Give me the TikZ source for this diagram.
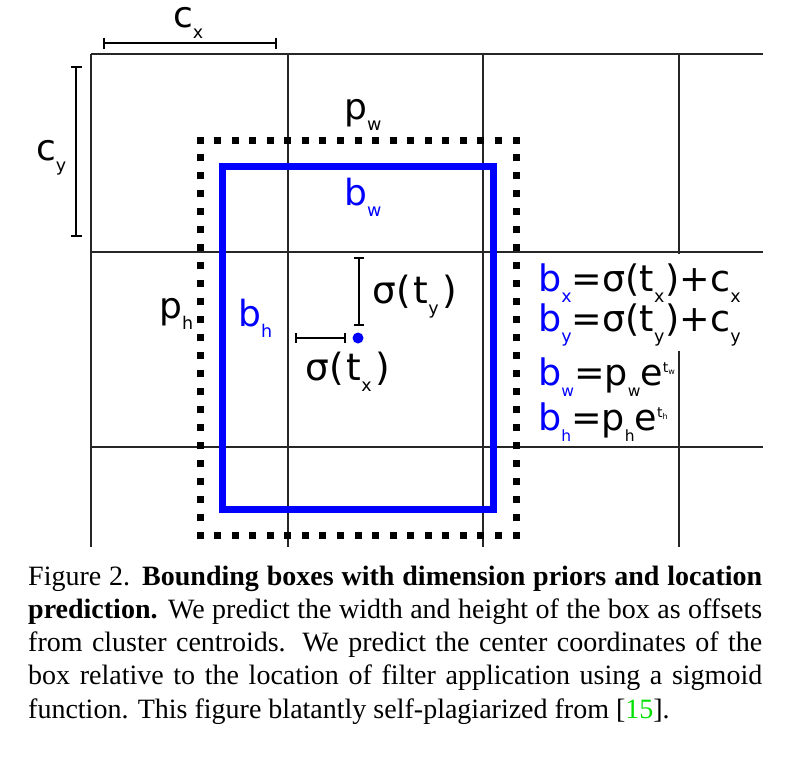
\documentclass[tikz,border=0pt]{standalone}
\usepackage{fontspec}
\setmainfont{Liberation Serif}
\newfontfamily\dv{DejaVu Sans}
\definecolor{bblue}{RGB}{0,0,255}
\definecolor{refgreen}{RGB}{0,225,0}
\newcommand\lsub[1]{\raisebox{-11pt}{\fontsize{17.5}{18}\selectfont #1}}
\newcommand\nsub[1]{\raisebox{-11pt}{\fontsize{15.5}{16}\selectfont #1}}
\newcommand\esup[2]{\raisebox{13pt}{\fontsize{14}{14}\selectfont #1\raisebox{-2.5pt}{\fontsize{8}{8}\selectfont #2}}}
\begin{document}
\begin{tikzpicture}[x=1pt,y=-1pt,
  gridline/.style={draw=black!85,line width=1.2pt},
  dimbar/.style={draw=black,line width=2.2pt},
  lbl/.style={font=\dv\fontsize{36}{40}\selectfont,inner sep=0pt,anchor=base west},
  siglbl/.style={lbl,font=\dv\fontsize{37.5}{40}\selectfont},
  eqlbl/.style={lbl,font=\dv\fontsize{36.5}{40}\selectfont},
  dotsq/.style={fill=black}]
\useasboundingbox (0,0) rectangle (786,756);
% grid
\foreach \x in {91,288,483,679} \draw[gridline] (\x,54) -- (\x,547);
\foreach \y in {54,252,447} \draw[gridline] (91,\y) -- (763,\y);
% dotted prior box
\foreach \i in {0,...,18} {
  \fill[dotsq] ({200+\i*17.556-3.5},136.5) rectangle ++(7,7);
  \fill[dotsq] ({200+\i*17.556-3.5},531.5) rectangle ++(7,7);
}
\foreach \i in {1,...,21} {
  \fill[dotsq] (196.5,{140+\i*17.955-3.5}) rectangle ++(7,7);
  \fill[dotsq] (512.5,{140+\i*17.955-3.5}) rectangle ++(7,7);
}
% predicted box
\draw[bblue,line width=6.7pt] (222.7,166.7) rectangle (493.3,509.3);
% dimension bars
\coordinate (cxa) at (104,43); \coordinate (cxb) at (276,43);
\draw[dimbar] (cxa) -- (cxb);
\draw[dimbar] (104,37.5) -- (104,48.5);
\draw[dimbar] (276,37.5) -- (276,48.5);
\coordinate (cya) at (76,67); \coordinate (cyb) at (76,236);
\draw[dimbar] (cya) -- (cyb);
\draw[dimbar] (70.5,67) -- (81.5,67);
\draw[dimbar] (70.5,236) -- (81.5,236);
\coordinate (tya) at (359,258); \coordinate (tyb) at (359,325);
\draw[dimbar] (tya) -- (tyb);
\draw[dimbar] (353.5,258) -- (364,258);
\draw[dimbar] (353.5,325) -- (364,325);
\coordinate (txa) at (296,338); \coordinate (txb) at (345,338);
\draw[dimbar] (txa) -- (txb);
\draw[dimbar] (296,333) -- (296,343);
\draw[dimbar] (345,333) -- (345,343);
\fill[bblue] (358,338) circle (5.5);
% labels
\node[lbl] (cx) at (173,27) {c\lsub{x}};
\node[lbl] (cy) at (36,160) {c\lsub{y}};
\node[lbl] (pw) at (344,119.5) {p\lsub{w}};
\node[lbl,text=bblue] (bw) at (344,205) {b\lsub{w}};
\node[lbl] (ph) at (159,318) {p\lsub{h}};
\node[lbl,text=bblue] (bh) at (238,326.7) {b\lsub{h}};
\node[siglbl] (sty) at (372,303.3) {σ\kern1pt(\kern2pt t\lsub{y}\kern4pt)};
\node[siglbl] (stx) at (305,380) {σ\kern1pt(\kern2pt t\lsub{x}\kern4pt)};
% equations
\fill[white] (530,254) rectangle (757,351);
\node[eqlbl] (eqx) at (538,291.7) {\textcolor{bblue}{b\lsub{x}}=σ(t\lsub{x}\kern1pt)+c\lsub{x}};
\node[eqlbl] (eqy) at (538,331.7) {\textcolor{bblue}{b\lsub{y}}=σ(t\lsub{y}\kern1pt)+c\lsub{y}};
\node[eqlbl] (eqw) at (538,385) {\textcolor{bblue}{b\nsub{w}}=p\nsub{w}e\esup{t}{w}};
\node[eqlbl] (eqh) at (538,430) {\textcolor{bblue}{b\nsub{h}}=p\nsub{h}e\esup{t}{h}};
% caption
\node[anchor=base west,inner sep=0pt] (cap) at (28,585) {\parbox[t]{734pt}{\fontsize{28}{33.3}\selectfont Figure 2. \textbf{Bounding boxes with dimension priors and location\linebreak prediction.} We predict the width and height of the box as offsets\linebreak from cluster centroids. We predict the center coordinates of the\linebreak box relative to the location of filter application using a sigmoid\linebreak function. This figure blatantly self-plagiarized from [\textcolor{refgreen}{15}].}};
\end{tikzpicture}
\end{document}
